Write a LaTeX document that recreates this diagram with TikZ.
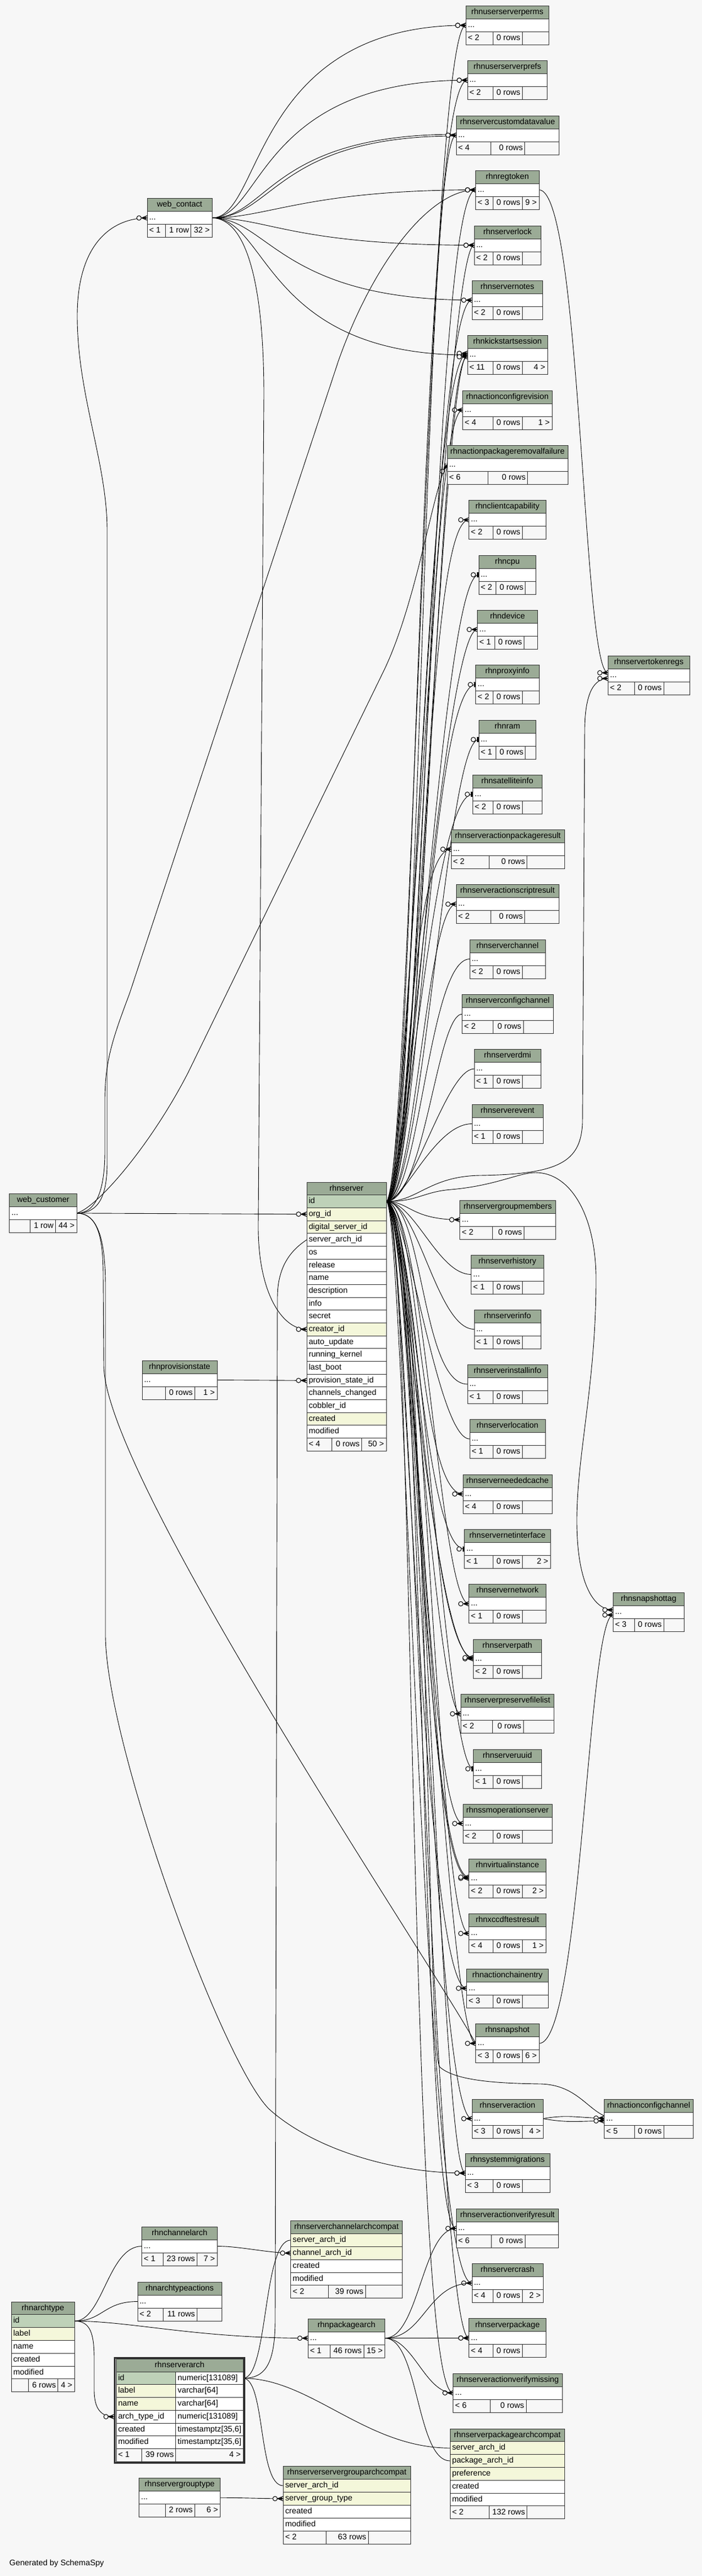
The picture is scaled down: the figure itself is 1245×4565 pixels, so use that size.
\documentclass[tikz,border=0pt]{standalone}
\usepackage{fontspec}
\setmainfont{Liberation Sans}
\usetikzlibrary{decorations.markings}
\definecolor{bgc}{HTML}{F7F7F7}
\definecolor{hdrc}{HTML}{9BAB96}
\definecolor{pkc}{HTML}{BED1B8}
\definecolor{idxc}{HTML}{F4F7DA}
\definecolor{tblc}{HTML}{2E2E2E}
\newcommand\tabfont{\fontsize{14.3}{17}\selectfont}
\pgfdeclarelayer{edgelayer}
\pgfsetlayers{edgelayer,main}
\tikzset{
 tbl/.style={draw=tblc, line width=1pt},
 rowbox/.style={draw=tblc, line width=1pt, fill=white, inner sep=0pt, outer sep=0pt, minimum height=23},
 hdrbox/.style={draw=tblc, line width=1pt, fill=hdrc, inner sep=0pt, outer sep=0pt, font=\tabfont, text height=10.3pt, text depth=3pt},
 ctext/.style={inner sep=0pt, outer sep=0pt, font=\tabfont, text height=10.3pt, text depth=3pt},
 rel/.style={draw=black, line width=0.9pt},
 crow/.style={postaction={decorate, decoration={markings, mark=at position 1 with {\draw[line width=1.1pt] (-10pt,0pt) -- (0pt,4pt) (-10pt,0pt) -- (0pt,0pt) (-10pt,0pt) -- (0pt,-4pt); \fill (-10pt,0pt) -- (-2pt,2pt) -- (-2pt,-2pt) -- cycle; \draw[line width=1pt, fill=bgc] (-14.5pt,0pt) circle (4pt);}}}},
 onebar/.style={postaction={decorate, decoration={markings, mark=at position 1 with {\fill (-3.2pt,-4.5pt) rectangle (0pt,4.5pt); \draw[line width=1pt, fill=bgc] (-9.5pt,0pt) circle (4pt);}}}},
}
\newcommand\Tfoot[9]{%
 \draw[tbl, fill=bgc] (#2,#4) rectangle (#3,#4+23);
 \draw[tbl] (#5,#4) -- (#5,#4+23) (#6,#4) -- (#6,#4+23);
 \node[ctext, anchor=west] (#1-fa) at (#2+3.5,#4+11.5) {#7};
 \node[ctext, anchor=east] (#1-fb) at (#6-3.5,#4+11.5) {#8};
 \node[ctext, anchor=east] (#1-fc) at (#3-4,#4+11.5) {#9};}
\newcommand\Ctab[9]{%
 \node[hdrbox, minimum width={#3-#2}, minimum height=23, anchor=north west] (#1-h) at (#2,#4) {\detokenize{#1}};
 \node[rowbox, minimum width={#3-#2}, anchor=north west] (#1) at (#2,#4+23) {};
 \node[ctext, anchor=west] (#1-d) at (#2+3.5,#4+34.5) {...};
 \Tfoot{#1}{#2}{#3}{#4+46}{#5}{#6}{#7}{#8}{#9}}
\newcommand\Trow[7]{%
 \node[rowbox, fill=#6, minimum width={#3-#2}, minimum height=#5, anchor=north west] (#1) at (#2,#4) {};
 \node[ctext, anchor=west] (#1-t) at (#2+3.5,#4+#5/2) {#7};}
\newcommand\Mtab[6]{%
 \node[hdrbox, minimum width={#3-#2}, minimum height=#5, anchor=north west] (#1-h) at (#2,#4) {\detokenize{#1}};
 \foreach \nm/\tx/\fc [count=\i] in {#6} {\Trow{#1-\nm}{#2}{#3}{#4+#5*\i}{#5}{\fc}{\tx}}}
\newcommand\Arow[5]{%
 \node[rowbox, minimum width=225, minimum height=22.7, anchor=north west] (rhnserverarch-#1) at (206,#2) {};
 \draw[tbl, fill=#3] (206,#2) rectangle (311.7,#2+22.7);
 \node[ctext, anchor=west] (rhnserverarch-#1-a) at (209.5,#2+11.35) {#4};
 \node[ctext, anchor=west] (rhnserverarch-#1-b) at (315.2,#2+11.35) {#5};}
\newcommand\Edg[5][crow]{\draw[rel,#1] (#2) .. controls +(#4,0) and +(-#5,0) .. (#3);}

\begin{document}
\begin{tikzpicture}[x=1pt,y=-1pt]
\useasboundingbox (0,0) rectangle (1245,4565);
\begin{pgfonlayer}{edgelayer}
\fill[bgc] (0,0) rectangle (1245,4565);
\end{pgfonlayer}

% right column
\Ctab{rhnuserserverperms}{826.3}{973.3}{10.3}{874.3}{926.3}{< 2}{0 rows}{}
\Ctab{rhnuserserverprefs}{829}{970.7}{107.6}{874.7}{926.3}{< 2}{0 rows}{}
\Ctab{rhnservercustomdatavalue}{809}{991}{205}{870.3}{930.7}{< 4}{0 rows}{}
\Ctab{rhnregtoken}{843.7}{956}{302}{874.7}{926.3}{< 3}{0 rows}{9 >}
\Ctab{rhnserverlock}{841}{959}{400}{874.7}{926.3}{< 2}{0 rows}{}
\Ctab{rhnservernotes}{837}{962.7}{497.3}{874.7}{926.3}{< 2}{0 rows}{}
\Ctab{rhnkickstartsession}{829}{971}{594.6}{874.7}{926.3}{< 11}{0 rows}{4 >}
\Ctab{rhnactionconfigrevision}{820.7}{979}{692}{874.3}{926.3}{< 4}{0 rows}{1 >}
\Ctab{rhnactionpackageremovalfailure}{793}{1007}{789}{865.3}{935.7}{< 6}{0 rows}{}
\Ctab{rhnclientcapability}{831.7}{968}{886.7}{874.7}{926.3}{< 2}{0 rows}{}
\Ctab{rhncpu}{849}{950.7}{984}{879.3}{931.7}{< 2}{0 rows}{}
\Ctab{rhndevice}{846.7}{953.3}{1081}{877.3}{929.3}{< 1}{0 rows}{}
\Ctab{rhnproxyinfo}{843.7}{956}{1178.6}{874.7}{926.3}{< 2}{0 rows}{}
\Ctab{rhnram}{849}{950.7}{1276}{879.3}{931.7}{< 1}{0 rows}{}
\Ctab{rhnsatelliteinfo}{838.3}{961}{1373}{874.7}{926.3}{< 2}{0 rows}{}
\Ctab{rhnserveractionpackageresult}{800}{1001.3}{1470.4}{867.7}{934.7}{< 2}{0 rows}{}
\Ctab{rhnserveractionscriptresult}{809}{991}{1567.7}{870.7}{930.7}{< 2}{0 rows}{}
\Ctab{rhnserverchannel}{833}{967}{1665}{874.7}{926.3}{< 2}{0 rows}{}
\Ctab{rhnserverconfigchannel}{819.7}{981.3}{1762.6}{874.7}{928}{< 2}{0 rows}{}
\Ctab{rhnserverdmi}{841}{959}{1859.6}{874.7}{926.3}{< 1}{0 rows}{}
\Ctab{rhnserverevent}{837}{963}{1957}{874.7}{926.3}{< 1}{0 rows}{}
\Ctab{rhnservergroupmembers}{815.7}{985.3}{2127}{873}{929.3}{< 2}{0 rows}{}
\Ctab{rhnserverhistory}{835.7}{964}{2224}{874.7}{926.3}{< 1}{0 rows}{}
\Ctab{rhnserverinfo}{841}{959}{2321}{874.7}{926.3}{< 1}{0 rows}{}
\Ctab{rhnserverinstallinfo}{829}{971}{2418.4}{874.7}{926.3}{< 1}{0 rows}{}
\Ctab{rhnserverlocation}{833}{967}{2515.5}{874.7}{926.3}{< 1}{0 rows}{}
\Ctab{rhnserverneededcache}{821}{979}{2613}{874.7}{926.3}{< 4}{0 rows}{}
\Ctab{rhnservernetinterface}{823.7}{976.3}{2710.5}{874.7}{926.3}{< 1}{0 rows}{2 >}
\Ctab{rhnservernetwork}{831.7}{968.3}{2807.6}{874.7}{926.3}{< 1}{0 rows}{}
\Ctab{rhnserverpath}{839.3}{960.3}{2905}{874.7}{926.3}{< 2}{0 rows}{}
\Ctab{rhnserverpreservefilelist}{817}{982.7}{3002.6}{873}{928}{< 2}{0 rows}{}
\Ctab{rhnserveruuid}{839.3}{960.3}{3100}{874.7}{926.3}{< 1}{0 rows}{}
\Ctab{rhnssmoperationserver}{821}{979}{3197}{874.7}{926.3}{< 2}{0 rows}{}
\Ctab{rhnvirtualinstance}{831.7}{968.3}{3294}{874.7}{926.3}{< 2}{0 rows}{2 >}
\Ctab{rhnxccdftestresult}{831.7}{968.3}{3391.8}{874.7}{926.3}{< 4}{0 rows}{1 >}
\Ctab{rhnactionchainentry}{827.7}{972.3}{3489}{874.7}{926.3}{< 3}{0 rows}{}
\Ctab{rhnsnapshot}{843.7}{956}{3586.7}{874.7}{926.3}{< 3}{0 rows}{6 >}
\Ctab{rhnserveraction}{837}{963}{3720}{874.7}{926.3}{< 3}{0 rows}{4 >}
\Ctab{rhnsystemmigrations}{825}{975}{3816.5}{874.7}{926.3}{< 3}{0 rows}{}
\Ctab{rhnserveractionverifyresult}{809}{990.7}{3914.6}{871}{931}{< 6}{0 rows}{}
\Ctab{rhnservercrash}{837}{963}{4011.4}{874.7}{926.3}{< 4}{0 rows}{2 >}
\Ctab{rhnserverpackage}{831.7}{968.3}{4108.8}{874.7}{926.3}{< 4}{0 rows}{}
\Ctab{rhnserveractionverifymissing}{803.7}{997.3}{4206}{869}{933}{< 6}{0 rows}{}
% far right
\Ctab{rhnservertokenregs}{1078.3}{1223}{1162.8}{1125}{1177}{< 2}{0 rows}{}
\Ctab{rhnsnapshottag}{1087.3}{1213.3}{2822.4}{1125}{1177}{< 3}{0 rows}{}
\Ctab{rhnactionconfigchannel}{1071.7}{1229.3}{3720}{1125}{1177}{< 5}{0 rows}{}
% left side
\Ctab{web_contact}{261}{376}{351.7}{293}{338.7}{< 1}{1 row}{32 >}
\Ctab{web_customer}{16.8}{136.2}{2115.4}{53.6}{98.5}{}{1 row}{44 >}
\Ctab{rhnprovisionstate}{252}{385}{2411}{293.4}{345.4}{}{0 rows}{1 >}
\Ctab{rhnchannelarch}{251.7}{385.3}{3946}{289}{349.3}{< 1}{23 rows}{7 >}
\Ctab{rhnarchtypeactions}{244}{393.3}{4044}{289.3}{349.3}{< 2}{11 rows}{}
\Ctab{rhnservergrouptype}{246.7}{390.7}{4391.7}{293}{345.3}{}{2 rows}{6 >}
\Ctab{rhnpackagearch}{546.3}{682.7}{4109}{585}{645}{< 1}{46 rows}{15 >}

% multi-row tables
\Mtab{rhnserver}{544}{685}{2095}{22.67}{id/id/pkc, org/org\_id/idxc, dig/digital\_server\_id/idxc, arch/server\_arch\_id/white, os/os/white, rel/release/white, nme/name/white, desc/description/white, info/info/white, sec/secret/white, creator/creator\_id/idxc, au/auto\_update/white, rk/running\_kernel/white, lb/last\_boot/white, prov/provision\_state\_id/white, cc/channels\_changed/white, cob/cobbler\_id/white, created/created/idxc, mod/modified/white}
\Tfoot{rhnserver}{544}{685}{2095+22.67*20}{588.4}{641.3}{< 4}{0 rows}{50 >}

\Mtab{rhnarchtype}{20}{132.3}{4079}{22.8}{id/id/pkc, label/label/idxc, nme/name/white, created/created/white, mod/modified/white}
\Tfoot{rhnarchtype}{20}{132.3}{4079+22.8*6}{50.7}{102.7}{}{6 rows}{4 >}

\Mtab{rhnserverchannelarchcompat}{515.7}{713.3}{3935.4}{22.9}{sa/server\_arch\_id/idxc, ca/channel\_arch\_id/idxc, created/created/white, mod/modified/white}
\Tfoot{rhnserverchannelarchcompat}{515.7}{713.3}{3935.4+22.9*5}{582.7}{648}{< 2}{39 rows}{}

\Mtab{rhnserverservergrouparchcompat}{502.3}{728}{4370.7}{22.85}{sa/server\_arch\_id/idxc, sg/server\_group\_type/idxc, created/created/white, mod/modified/white}
\Tfoot{rhnserverservergrouparchcompat}{502.3}{728}{4370.7+22.85*5}{578.7}{653}{< 2}{63 rows}{}

\Mtab{rhnserverpackagearchcompat}{798.3}{1001.3}{4304}{22.8}{sa/server\_arch\_id/idxc, pa/package\_arch\_id/idxc, pref/preference/idxc, created/created/white, mod/modified/white}
\Tfoot{rhnserverpackagearchcompat}{798.3}{1001.3}{4304+22.8*6}{867}{934.7}{< 2}{132 rows}{}

% rhnserverarch (focus table)
\node[hdrbox, minimum width=225, minimum height=22.7, anchor=north west] (rhnserverarch-h) at (206,4180.5) {rhnserverarch};
\Arow{id}{4203.2}{pkc}{id}{numeric[131089]}
\Arow{label}{4225.9}{idxc}{label}{varchar[64]}
\Arow{nme}{4248.6}{idxc}{name}{varchar[64]}
\Arow{at}{4271.3}{white}{arch\_type\_id}{numeric[131089]}
\Arow{created}{4294}{white}{created}{timestamptz[35,6]}
\Arow{mod}{4316.7}{white}{modified}{timestamptz[35,6]}
\Tfoot{rhnserverarch}{206}{431}{4339.4}{251.7}{311.7}{< 1}{39 rows}{4 >}
\draw[tblc, line width=3pt] (203.5,4178) rectangle (433.5,4364.9);

\node[ctext, anchor=west] (gen) at (16.7,4543) {Generated by SchemaSpy};

% ---------------- connectors ----------------
\begin{pgfonlayer}{edgelayer}
% web_contact
\Edg{web_contact.east}{rhnuserserverperms.west}{90}{380}
\Edg{web_contact.east}{rhnuserserverprefs.west}{90}{370}
\Edg{web_contact.east}{[yshift=1.5pt]rhnservercustomdatavalue.west}{100}{330}
\Edg{web_contact.east}{[yshift=-1.5pt]rhnservercustomdatavalue.west}{110}{320}
\Edg{web_contact.east}{rhnregtoken.west}{100}{300}
\Edg{web_contact.east}{rhnserverlock.west}{100}{320}
\Edg{web_contact.east}{rhnservernotes.west}{100}{340}
\Edg{web_contact.east}{rhnkickstartsession.west}{100}{360}
\draw[rel,crow] (web_contact.east) .. controls (430,386.5) and (468,480) .. (468,700) -- (458,2170) .. controls (457,2290) and (500,2355.7) .. (rhnserver-creator.west);
% web_customer
\draw[rel,crow] (web_customer.east) -- (rhnserver-org.west);
\draw[rel,crow] (web_customer.east) .. controls (175,2150) and (190,2120) .. (190,2060) -- (190,940) .. controls (190,820) and (137,700) .. (137,560) .. controls (137,430) and (200,386.5) .. (web_contact.west);
\draw[rel,crow] (web_customer.east) .. controls (170,2150) and (186,2110) .. (186,2040) -- (186,1950) .. controls (186,1880) and (200,1840) .. (230,1760) -- (600,640) .. controls (660,470) and (760,336.5) .. (rhnregtoken.west);
\draw[rel,crow] (web_customer.east) .. controls (175,2138) and (270,2025) .. (334,1900) -- (680,1190) .. controls (740,1067) and (770,855) .. (rhnactionpackageremovalfailure.west);
\draw[rel,crow] (web_customer.east) .. controls (172,2150) and (183,2190) .. (183,2260) -- (184,2420) .. controls (186,2620) and (760,3470) .. (rhnsnapshot.west);
\draw[rel,crow] (web_customer.east) .. controls (175,2150) and (187,2200) .. (187,2280) -- (187,2900) .. controls (190,3100) and (400,3670) .. (480,3740) .. controls (560,3810) and (700,3851) .. (rhnsystemmigrations.west);
% provision state
\draw[rel,crow] (rhnprovisionstate.east) -- (rhnserver-prov.west);
% rhnserver fan
\foreach \tn [count=\k] in {rhnuserserverperms, rhnuserserverprefs, rhnservercustomdatavalue, rhnregtoken, rhnserverlock, rhnservernotes, rhnkickstartsession, rhnactionconfigrevision, rhnclientcapability, rhndevice, rhnserveractionpackageresult, rhnserveractionscriptresult, rhnserverchannel, rhnserverconfigchannel, rhnserverevent, rhnservergroupmembers, rhnserverhistory, rhnserverneededcache, rhnservernetwork, rhnserverpath, rhnserverpreservefilelist, rhnssmoperationserver, rhnvirtualinstance, rhnxccdftestresult, rhnactionchainentry, rhnsnapshot, rhnserveraction, rhnsystemmigrations, rhnserveractionverifyresult, rhnservercrash, rhnserverpackage, rhnserveractionverifymissing}
  {\pgfmathsetmacro\da{32+mod(\k,5)*9}\pgfmathsetmacro\db{45+mod(3*\k,7)*7}\Edg{rhnserver-id.east}{\tn.west}{\da}{\db}}
\foreach \tn [count=\k] in {rhncpu, rhnproxyinfo, rhnram, rhnsatelliteinfo, rhnserverdmi, rhnserverinfo, rhnserverinstallinfo, rhnserverlocation, rhnservernetinterface, rhnserveruuid}
  {\pgfmathsetmacro\da{36+mod(\k,4)*10}\pgfmathsetmacro\db{50+mod(2*\k,5)*8}\Edg[onebar]{rhnserver-id.east}{\tn.west}{\da}{\db}}
\Edg{rhnserver-id.east}{[yshift=3pt]rhnkickstartsession.west}{45}{75}
\Edg{rhnserver-id.east}{[yshift=-3pt]rhnkickstartsession.west}{65}{55}
\Edg{rhnserver-id.east}{[yshift=2pt]rhnserverpath.west}{45}{80}
\Edg{rhnserver-id.east}{[yshift=2pt]rhnvirtualinstance.west}{45}{80}
\draw[rel,crow] (rhnserver-id.east) .. controls (740,2129.7) and (760,2085) .. (850,2083) .. controls (990,2081) and (1030,2060) .. (1033,1990) -- (1037,1290) .. controls (1038,1225) and (1055,1202.3) .. ([yshift=-5pt]rhnservertokenregs.west);
\draw[rel,crow] (rhnserver-id.east) .. controls (740,2129.7) and (750,2112) .. (800,2108) .. controls (880,2101) and (920,2078) .. (950,2078) .. controls (1010,2078) and (1055,2150) .. (1057,2260) .. controls (1058,2450) and (1022,2580) .. (1023,2700) .. controls (1024,2800) and (1050,2852.9) .. ([yshift=4pt]rhnsnapshottag.west);
\draw[rel,crow] (rhnserver-id.east) .. controls (760,2129.7) and (755,3640) .. (780,3663) .. controls (810,3690) and (900,3692) .. (960,3693) .. controls (1020,3695) and (1040,3735) .. ([yshift=5pt]rhnactionconfigchannel.west);
% other parents on the right
\draw[rel,crow] (rhnregtoken.east) .. controls +(75,0) and +(-45,0) .. ([yshift=5pt]rhnservertokenregs.west);
\draw[rel,crow] (rhnsnapshot.east) .. controls +(75,0) and +(-45,0) .. ([yshift=-5pt]rhnsnapshottag.west);
\draw[rel,crow] (rhnserveraction.east) .. controls +(45,-8) and +(-45,0) .. ([yshift=1pt]rhnactionconfigchannel.west);
\draw[rel,crow] (rhnserveraction.east) .. controls +(45,8) and +(-45,0) .. ([yshift=-4pt]rhnactionconfigchannel.west);
% arch tables
\draw[rel,crow] (rhnserverarch-id.east) .. controls (470,4214.6) and (488,4190) .. (488,4110) -- (492,2300) .. controls (492,2240) and (520,2213) .. (rhnserver-arch.west);
\Edg{rhnserverarch-id.east}{rhnserverchannelarchcompat-sa.west}{45}{50}
\Edg{rhnserverarch-id.east}{rhnserverservergrouparchcompat-sa.west}{40}{45}
\Edg{rhnserverarch-id.east}{rhnserverpackagearchcompat-sa.west}{120}{150}
\Edg{rhnchannelarch.east}{rhnserverchannelarchcompat-ca.west}{40}{40}
\Edg{rhnservergrouptype.east}{rhnserverservergrouparchcompat-sg.west}{40}{40}
\Edg{rhnarchtype-id.east}{rhnchannelarch.west}{50}{60}
\Edg{rhnarchtype-id.east}{rhnarchtypeactions.west}{50}{60}
\draw[rel,crow] (rhnarchtype-id.east) .. controls (160,4113.2) and (167,4135) .. (167,4180) -- (167,4235) .. controls (167,4270) and (180,4282.6) .. ([xshift=-3.5pt]rhnserverarch-at.west);
\Edg{rhnarchtype-id.east}{rhnpackagearch.west}{100}{200}
\Edg{rhnpackagearch.east}{rhnserveractionverifyresult.west}{60}{60}
\Edg{rhnpackagearch.east}{rhnservercrash.west}{70}{80}
\Edg{rhnpackagearch.east}{rhnserverpackage.west}{40}{40}
\Edg{rhnpackagearch.east}{rhnserveractionverifymissing.west}{50}{50}
\Edg{rhnpackagearch.east}{rhnserverpackagearchcompat-pa.west}{60}{60}
\end{pgfonlayer}
\end{tikzpicture}
\end{document}
